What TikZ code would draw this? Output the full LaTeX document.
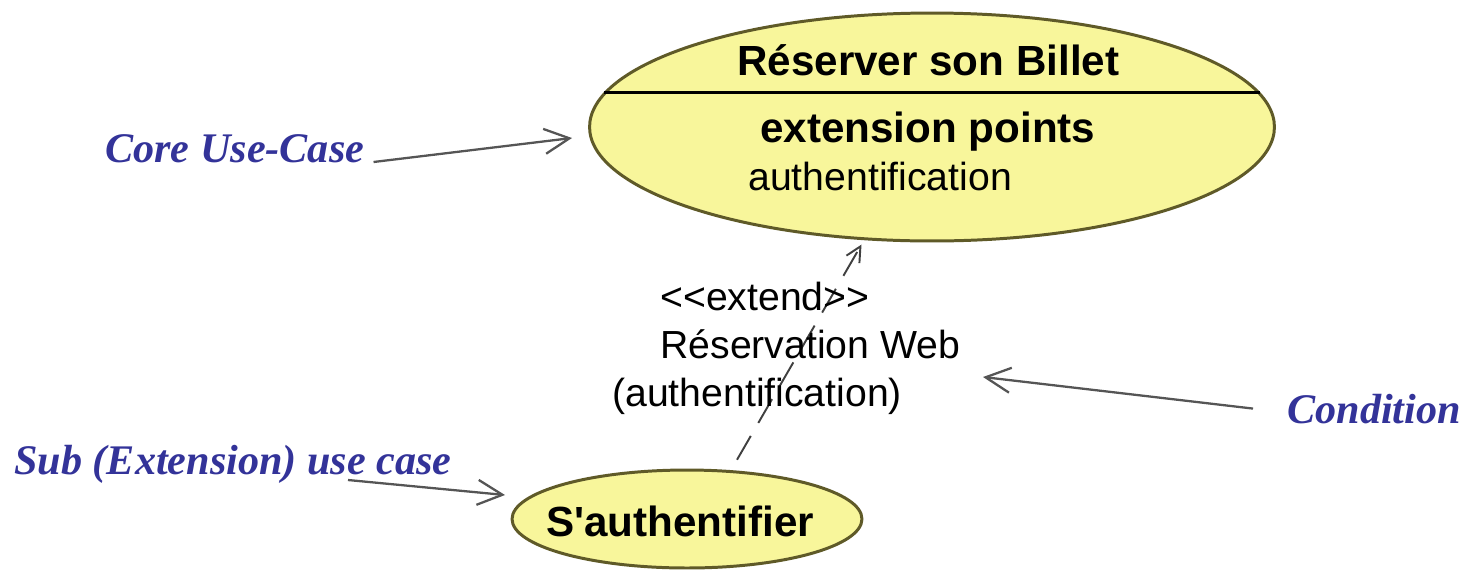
\documentclass[tikz,border=0pt]{standalone}
\usepackage{fontspec}
\setmainfont{Liberation Serif}
\newfontfamily\umlfont{Liberation Sans}
\usetikzlibrary{shapes.geometric,arrows.meta}

\definecolor{ucfill}{RGB}{248,246,155}
\definecolor{ucdraw}{RGB}{95,90,40}
\definecolor{noteblue}{RGB}{51,51,153}
\definecolor{notegray}{RGB}{85,85,85}

\tikzset{
  usecase/.style={ellipse, draw=ucdraw, fill=ucfill, line width=1.7pt, inner sep=0pt},
  umlbold/.style={font=\umlfont\bfseries\fontsize{24}{28}\selectfont, inner sep=0pt, anchor=base west},
  umltext/.style={font=\umlfont\fontsize{22.3}{26}\selectfont, inner sep=0pt, anchor=base west},
  note/.style={font=\bfseries\itshape\fontsize{24}{28}\selectfont, text=noteblue, inner sep=0pt, anchor=base west},
  notearrow/.style={draw=notegray, line width=1.3pt, -{Straight Barb[length=0.5cm,width=0.5cm,line width=1.3pt]}},
  extendarrow/.style={draw=black!75, line width=1.1pt, dash pattern=on 0.55cm off 0.3cm, -{Straight Barb[length=0.3cm,width=0.3cm]}},
}

\begin{document}
\begin{tikzpicture}[x=0.02cm,y=-0.02cm]
  \useasboundingbox (0,0) rectangle (1463,572);

  % 1. les deux cas d'utilisation
  \node[usecase, minimum width=13.7cm, minimum height=4.56cm] (resa) at (932,127) {};
  \node[usecase, minimum width=7cm, minimum height=1.96cm] (auth) at (687,519) {};
  \draw[line width=1.2pt] (resa.174) -- (resa.6);

  % textes dans les ellipses
  \node[umlbold] (resa-title) at (737,75) {Réserver son Billet};
  \node[umlbold] (resa-points) at (760,142) {extension points};
  \node[umltext] (resa-point) at (748,190) {authentification};
  \node[umlbold] (auth-title) at (546,536) {S'authentifier};

  % 2. la relation extend et sa condition
  \draw[extendarrow, shorten <=0.24cm, shorten >=0.1cm] (auth.48) -- (resa.239);
  \node[umltext] (ext-stereo) at (660,310) {<<extend>>};
  \node[umltext] (ext-cond) at (660,358) {Réservation Web};
  \node[umltext] (ext-point) at (612,406) {(authentification)};

  % 3. les annotations
  \node[note] (core) at (105,162) {Core Use-Case};
  \node[note] (sub) at (14,474) {Sub (Extension) use case};
  \node[note] (cond) at (1287,423) {Condition};

  \coordinate (core-tip) at (572,138);
  \coordinate (sub-tip) at (505,495);
  \coordinate (cond-tip) at (983,377);

  \draw[notearrow] ([xshift=0.18cm]core.base east) -- (core-tip);
  \draw[notearrow] ([shift={(334,6)}]sub.base west) -- (sub-tip);
  \draw[notearrow] ([xshift=-0.68cm]cond.west) -- (cond-tip);
\end{tikzpicture}
\end{document}
